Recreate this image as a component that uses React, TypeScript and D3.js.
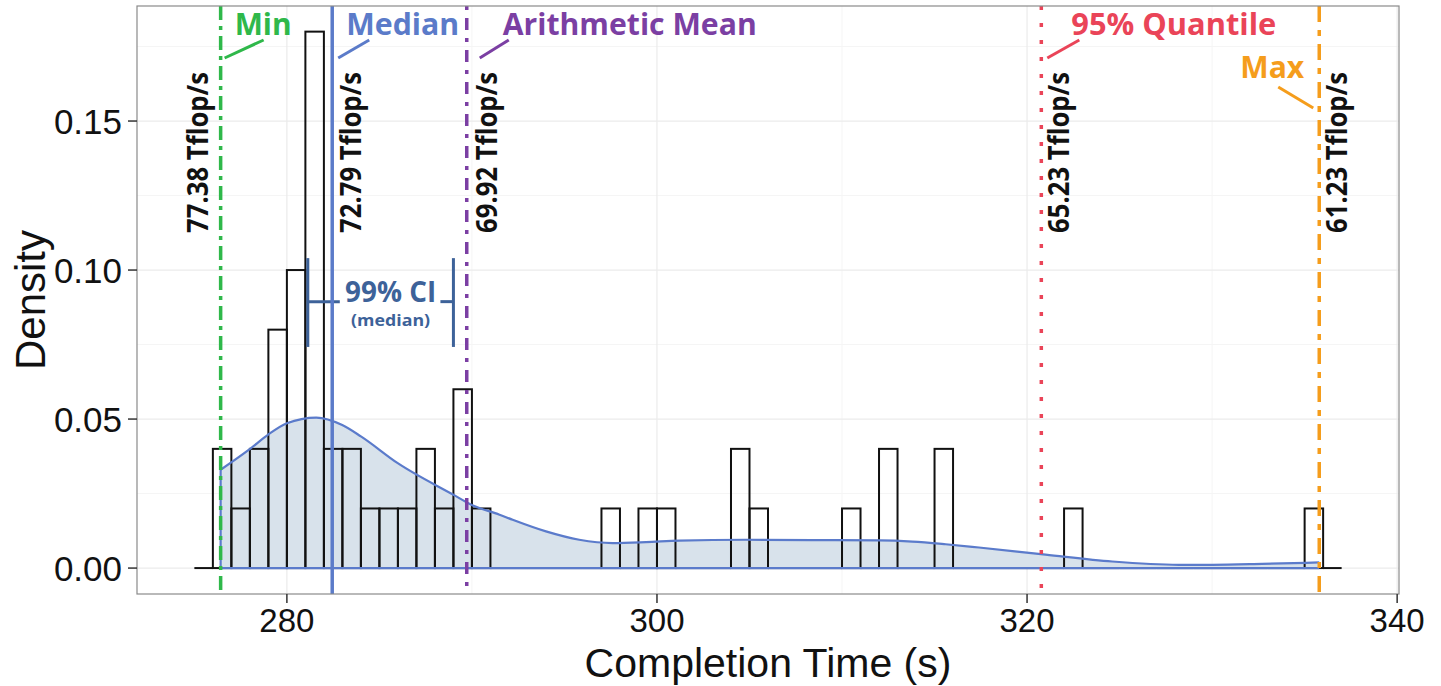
import React from 'react';
import * as d3 from 'd3';

// ---- data ----
const binStart = 275;
const binWidth = 1;
const binDensities = [
  0, 0.04, 0.02, 0.04, 0.08, 0.10, 0.18, 0.04, 0.04, 0.02, 0.02, 0.02, 0.04, 0.02, 0.06, 0.02,
  0, 0, 0, 0, 0, 0,
  0.02, 0, 0.02, 0.02,
  0, 0, 0,
  0.04, 0.02,
  0, 0, 0, 0,
  0.02, 0, 0.04, 0, 0, 0.04,
  0, 0, 0, 0, 0, 0,
  0.02,
  0, 0, 0, 0, 0, 0, 0, 0, 0, 0, 0, 0,
  0.02, 0,
];
const densityX = [276.42, 277.99, 278.97, 280.0, 281.59, 282.99, 284.02, 285.99, 289.0, 289.99, 291.49, 292.2, 294.0, 295.8, 297.6, 299.4, 301.2, 304.8, 308.4, 312.0, 313.8, 315.6, 317.4, 321.0, 324.6, 328.2, 330.0, 332.7, 335.79];
const densityY = [0.033, 0.0399, 0.0447, 0.0486, 0.0505, 0.048, 0.0441, 0.0352, 0.0246, 0.0212, 0.0179, 0.0162, 0.0123, 0.0095, 0.0084, 0.0087, 0.0092, 0.0095, 0.0094, 0.0093, 0.0089, 0.008, 0.0069, 0.0045, 0.0022, 0.0011, 0.0011, 0.0014, 0.0019];
const xTicks = [280, 300, 320, 340];
const xMinor = [290, 310, 330];
const yTicks = [0, 0.05, 0.1, 0.15];
const yMinor = [0.025, 0.075, 0.125, 0.175];
const statNames = ['Min', 'Median', 'Arithmetic Mean', '95% Quantile', 'Max'];
const statValues = [276.42, 282.45, 289.72, 320.77, 335.79];
const statLabels = ['77.38 Tflop/s', '72.79 Tflop/s', '69.92 Tflop/s', '65.23 Tflop/s', '61.23 Tflop/s'];
const ciLow = 281.13;
const ciHigh = 289.0;
const ciTop = 0.104;
const ciBottom = 0.0742;
const ciMid = 0.0894;

// ---- styles ----
const statColors = ['#2fb84a', '#5b7bc9', '#7b3fa3', '#ea4458', '#f59d1c'];
const statDash = ['14 6 4 6', null, '4 8 12 8', '4 13', '16 8 6 8'];
const statWidth = [3.5, 3.5, 3.5, 3.5, 3.5];
const nameWidth = [57, 113, 254, 205, 64];
const labelOffset = [-13, 29, 30, 28, 28];

const W = 1441;
const H = 686;
const L = 137, R = 1399, T = 6, B = 594;

export default function App() {
  const x = d3.scaleLinear().domain([271.9, 340.1]).range([L, R]);
  const y = d3.scaleLinear().domain([-0.0087, 0.1886]).range([B, T]);

  const pts: [number, number][] = densityX.map((d, i) => [d, densityY[i]]);
  const area = d3.area<[number, number]>()
    .x(d => x(d[0])).y0(y(0)).y1(d => y(d[1])).curve(d3.curveMonotoneX);
  const line = d3.line<[number, number]>()
    .x(d => x(d[0])).y(d => y(d[1])).curve(d3.curveMonotoneX);

  const font = "'Open Sans', 'DejaVu Sans', sans-serif";
  const axFont = "'Liberation Sans', Arial, sans-serif";

  const nameStart = [
    x(statValues[0]) + 14,
    x(statValues[1]) + 14,
    x(statValues[2]) + 36,
    x(statValues[3]) + 30,
    x(statValues[4]) - 15 - nameWidth[4],
  ];
  const nameBase = [35, 35, 35, 35, 78];
  const leaders = [
    [x(statValues[0]) + 4, 58, x(statValues[0]) + 43, 40],
    [x(statValues[1]) + 6, 58, x(statValues[1]) + 37, 40],
    [x(statValues[2]) + 13, 58, x(statValues[2]) + 42, 40],
    [x(statValues[3]) + 6, 58, x(statValues[3]) + 38, 40],
    [x(statValues[4]) - 41, 87, x(statValues[4]) - 6, 108],
  ];

  return (
    <svg width={W} height={H} style={{ position: 'absolute', left: 0, top: 0, background: '#fff' }}>
      <rect x={0} y={0} width={W} height={H} fill="#fff" />
      {/* grid */}
      {yMinor.map(v => (
        <line key={'ym' + v} x1={L} x2={R} y1={y(v)} y2={y(v)} stroke="#f5f5f5" strokeWidth={1} />
      ))}
      {xMinor.map(v => (
        <line key={'xm' + v} x1={x(v)} x2={x(v)} y1={T} y2={B} stroke="#f5f5f5" strokeWidth={1} />
      ))}
      {yTicks.map(v => (
        <line key={'yg' + v} x1={L} x2={R} y1={y(v)} y2={y(v)} stroke="#ebebeb" strokeWidth={1.2} />
      ))}
      {xTicks.map(v => (
        <line key={'xg' + v} x1={x(v)} x2={x(v)} y1={T} y2={B} stroke="#ebebeb" strokeWidth={1.2} />
      ))}

      {/* density fill */}
      <path d={area(pts) || ''} fill="#d8e2eb" stroke="none" />

      {/* histogram */}
      {binDensities.map((d, i) => {
        const x0 = x(binStart + i * binWidth);
        const x1 = x(binStart + (i + 1) * binWidth);
        if (d === 0) {
          return <line key={'b' + i} x1={x0} x2={x1} y1={y(0)} y2={y(0)} stroke="#111" strokeWidth={2} />;
        }
        return (
          <rect key={'b' + i} x={x0} y={y(d)} width={x1 - x0} height={y(0) - y(d)}
            fill="none" stroke="#111" strokeWidth={2} />
        );
      })}

      {/* density line */}
      <path d={line(pts) || ''} fill="none" stroke="#5b7bcb" strokeWidth={2.2} />
      <line x1={x(densityX[0])} x2={x(densityX[densityX.length - 1])} y1={y(0)} y2={y(0)} stroke="#5b7bcb" strokeWidth={2.2} />
      <line x1={x(densityX[0])} x2={x(densityX[0])} y1={y(0)} y2={y(densityY[0])} stroke="#5b7bcb" strokeWidth={2.2} />

      {/* CI */}
      <g stroke="#3d6299" strokeWidth={3}>
        <line x1={x(ciLow)} x2={x(ciLow)} y1={y(ciTop)} y2={y(ciBottom)} />
        <line x1={x(ciHigh)} x2={x(ciHigh)} y1={y(ciTop)} y2={y(ciBottom)} />
        <line x1={x(ciLow)} x2={x(ciLow) + 32} y1={y(ciMid)} y2={y(ciMid)} />
        <line x1={x(ciHigh) - 13} x2={x(ciHigh)} y1={y(ciMid)} y2={y(ciMid)} />
      </g>
      <text x={(x(ciLow) + x(ciHigh)) / 2 + 10} y={302} textAnchor="middle" fontFamily={font} fontWeight={700}
        fontSize={28} fill="#3d6299" textLength={91} lengthAdjust="spacingAndGlyphs">99% CI</text>
      <text x={(x(ciLow) + x(ciHigh)) / 2 + 10} y={326} textAnchor="middle" fontFamily={font} fontWeight={700}
        fontSize={16} fill="#3d6299" textLength={79} lengthAdjust="spacingAndGlyphs">(median)</text>

      {/* vertical stat lines */}
      {statValues.map((v, i) => (
        <line key={'s' + i} x1={x(v)} x2={x(v)} y1={T} y2={B}
          stroke={statColors[i]} strokeWidth={statWidth[i]}
          strokeDasharray={statDash[i] || undefined} />
      ))}

      {/* stat names + leaders */}
      {statNames.map((n, i) => (
        <g key={'n' + i}>
          <text x={nameStart[i]} y={nameBase[i]} fontFamily={font} fontWeight={700} fontSize={31}
            fill={statColors[i]} textLength={nameWidth[i]} lengthAdjust="spacingAndGlyphs">{n}</text>
          <line x1={leaders[i][0]} y1={leaders[i][1]} x2={leaders[i][2]} y2={leaders[i][3]}
            stroke={statColors[i]} strokeWidth={3} />
        </g>
      ))}

      {/* rotated performance labels */}
      {statLabels.map((s, i) => (
        <text key={'l' + i} transform={`translate(${x(statValues[i]) + labelOffset[i]},233) rotate(-90)`}
          fontFamily={font} fontWeight={700} fontSize={29} fill="#111"
          textLength={161} lengthAdjust="spacingAndGlyphs">{s}</text>
      ))}

      {/* panel border */}
      <rect x={L} y={T} width={R - L} height={B - T} fill="none" stroke="#8a8a8a" strokeWidth={1.2} />

      {/* axes */}
      {yTicks.map(v => (
        <g key={'yt' + v}>
          <line x1={L - 9} x2={L} y1={y(v)} y2={y(v)} stroke="#333" strokeWidth={1.5} />
          <text x={L - 15} y={y(v)} dy="0.36em" textAnchor="end" fontFamily={axFont} fontSize={35} fill="#111">
            {d3.format('.2f')(v)}
          </text>
        </g>
      ))}
      {xTicks.map(v => (
        <g key={'xt' + v}>
          <line x1={x(v)} x2={x(v)} y1={B} y2={B + 9} stroke="#333" strokeWidth={1.5} />
          <text x={x(v)} y={632} textAnchor="middle" fontFamily={axFont} fontSize={33} fill="#111">{v}</text>
        </g>
      ))}
      <text x={(L + R) / 2} y={677} textAnchor="middle" fontFamily={axFont} fontSize={41} fill="#111">Completion Time (s)</text>
      <text transform={`translate(45,${(T + B) / 2}) rotate(-90)`} textAnchor="middle" fontFamily={axFont} fontSize={42} fill="#111">Density</text>
    </svg>
  );
}
